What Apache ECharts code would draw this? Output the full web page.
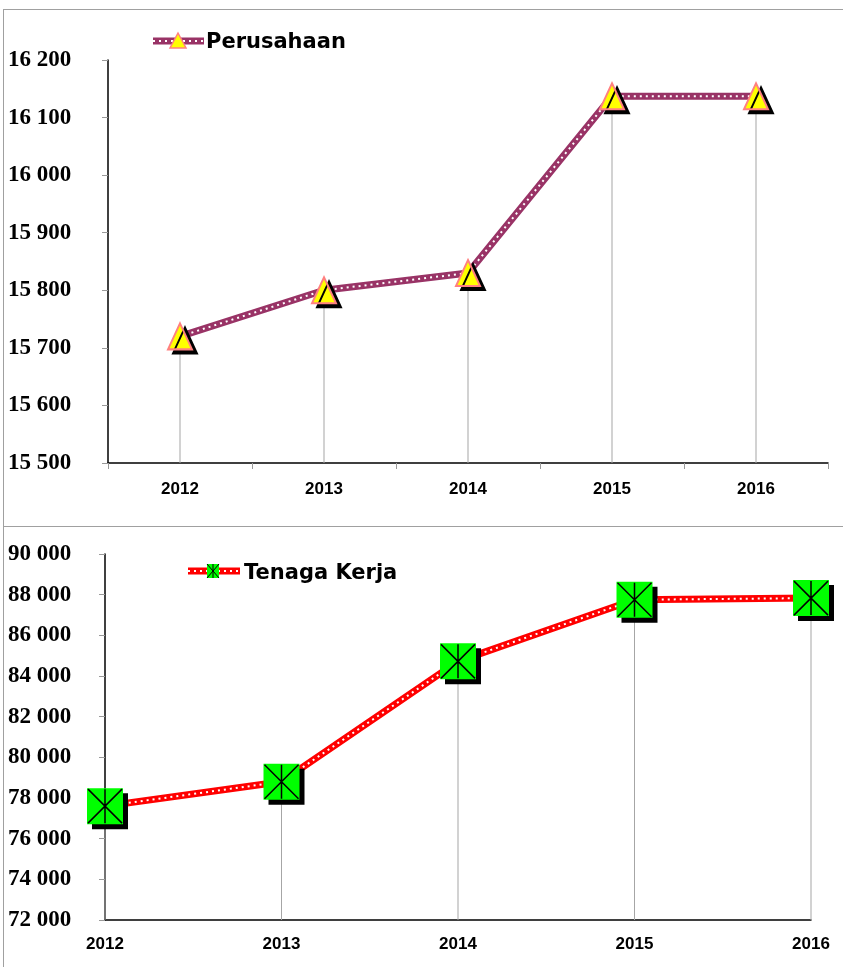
<!DOCTYPE html>
<html>
<head>
<meta charset="utf-8">
<script src="https://cdn.jsdelivr.net/npm/echarts@6/dist/echarts.min.js"></script>
<style>
html,body{margin:0;padding:0;background:#fff;}
#c{width:843px;height:967px;}
</style>
</head>
<body>
<div id="c"></div>
<script>
// ---- data ----
const years = ['2012', '2013', '2014', '2015', '2016'];
const perusahaan = [15720, 15800, 15830, 16137, 16137];
const tenagaKerja = [77600, 78800, 84720, 87750, 87830];
const topAxis = { min: 15500, max: 16200, interval: 100 };
const bottomAxis = { min: 72000, max: 90000, interval: 2000 };
const seriesNames = ['Perusahaan', 'Tenaga Kerja'];

const fmt = v => String(v).replace(/\B(?=(\d{3})+(?!\d))/g, ' ');
const serif = '"Liberation Serif", "Times New Roman", serif';
const sans = '"Liberation Sans", Arial, sans-serif';
const legendFont = '"DejaVu Sans", Verdana, sans-serif';

const chart = echarts.init(document.getElementById('c'), null, { renderer: 'canvas' });

const yLabel = (margin) => ({
  show: true, margin: margin, align: 'left', color: '#000',
  fontFamily: serif, fontWeight: 'bold', fontSize: 23, formatter: fmt
});
const xLabel = (margin) => ({
  show: true, margin: margin, color: '#000',
  fontFamily: sans, fontWeight: 'bold', fontSize: 17
});

const option = {
  animation: false,
  backgroundColor: '#fff',
  grid: [
    { left: 108, right: 15, top: 60, height: 403, containLabel: false },
    { left: 105, right: 32, top: 554, height: 366, containLabel: false }
  ],
  xAxis: [
    {
      gridIndex: 0, type: 'category', data: years, boundaryGap: true,
      axisLine: { lineStyle: { color: '#000', width: 1.5 } },
      axisTick: { show: true, length: 6, lineStyle: { color: '#999' }, alignWithLabel: false },
      axisLabel: xLabel(18),
      splitLine: { show: false }
    },
    {
      gridIndex: 1, type: 'category', data: years, boundaryGap: false,
      axisLine: { lineStyle: { color: '#000', width: 1.5 } },
      axisTick: { show: false },
      axisLabel: xLabel(16),
      splitLine: { show: false }
    }
  ],
  yAxis: [
    {
      gridIndex: 0, type: 'value', min: topAxis.min, max: topAxis.max, interval: topAxis.interval,
      axisLine: { show: true, lineStyle: { color: '#000', width: 1.5 } },
      axisTick: { show: true, length: 6, lineStyle: { color: '#999' } },
      axisLabel: yLabel(100),
      splitLine: { show: false }
    },
    {
      gridIndex: 1, type: 'value', min: bottomAxis.min, max: bottomAxis.max, interval: bottomAxis.interval,
      axisLine: { show: true, lineStyle: { color: '#000', width: 1.5 } },
      axisTick: { show: true, length: 6, lineStyle: { color: '#999' } },
      axisLabel: yLabel(97),
      splitLine: { show: false }
    }
  ],
  series: [
    // ---- top chart ----
    { type: 'bar', xAxisIndex: 0, yAxisIndex: 0, data: perusahaan, barWidth: 1,
      itemStyle: { color: '#a6a6a6' }, z: 1, silent: true },
    { name: seriesNames[0], type: 'line', xAxisIndex: 0, yAxisIndex: 0, data: perusahaan,
      showSymbol: false, lineStyle: { color: '#993366', width: 7 }, z: 2, silent: true },
    { type: 'line', xAxisIndex: 0, yAxisIndex: 0, data: perusahaan, showSymbol: false,
      lineStyle: { color: '#fff', width: 2, type: [2, 4] }, z: 3, silent: true },
    { type: 'scatter', xAxisIndex: 0, yAxisIndex: 0, data: perusahaan, symbol: 'triangle',
      symbolSize: [24, 26],
      itemStyle: { color: '#FFFF00', borderColor: '#FF8080', borderWidth: 2,
        shadowColor: '#000', shadowBlur: 0, shadowOffsetX: 5, shadowOffsetY: 4, opacity: 1 },
      z: 4, silent: true },
    // ---- bottom chart ----
    { type: 'bar', xAxisIndex: 1, yAxisIndex: 1, data: tenagaKerja, barWidth: 1,
      itemStyle: { color: '#a6a6a6' }, z: 1, silent: true },
    { name: seriesNames[1], type: 'line', xAxisIndex: 1, yAxisIndex: 1, data: tenagaKerja,
      showSymbol: false, lineStyle: { color: '#FF0000', width: 7 }, z: 2, silent: true },
    { type: 'line', xAxisIndex: 1, yAxisIndex: 1, data: tenagaKerja, showSymbol: false,
      lineStyle: { color: '#fff', width: 2, type: [2, 4] }, z: 3, silent: true },
    { type: 'scatter', xAxisIndex: 1, yAxisIndex: 1, data: tenagaKerja, symbol: 'rect',
      symbolSize: 36,
      itemStyle: { color: '#00FF00', borderWidth: 0,
        shadowColor: '#000', shadowBlur: 0, shadowOffsetX: 5, shadowOffsetY: 5, opacity: 1 },
      z: 4, silent: true },
    { type: 'scatter', xAxisIndex: 1, yAxisIndex: 1, data: tenagaKerja,
      symbol: 'path://M0,0L10,10M10,0L0,10M5,0L5,10', symbolSize: 34,
      itemStyle: { color: 'transparent', borderColor: '#000', borderWidth: 1.5, opacity: 1 },
      z: 5, silent: true }
  ],
  graphic: [
    // frame lines
    { type: 'line', shape: { x1: 3, y1: 9.5, x2: 843, y2: 9.5 }, style: { stroke: '#a0a0a0', lineWidth: 1 }, silent: true },
    { type: 'line', shape: { x1: 3.5, y1: 9, x2: 3.5, y2: 967 }, style: { stroke: '#a0a0a0', lineWidth: 1 }, silent: true },
    { type: 'line', shape: { x1: 3, y1: 526.5, x2: 843, y2: 526.5 }, style: { stroke: '#a0a0a0', lineWidth: 1 }, silent: true },
    // top legend
    { type: 'line', shape: { x1: 153, y1: 41, x2: 204, y2: 41 }, style: { stroke: '#993366', lineWidth: 7 }, silent: true },
    { type: 'line', shape: { x1: 153, y1: 41, x2: 204, y2: 41 }, style: { stroke: '#fff', lineWidth: 2, lineDash: [2, 4] }, silent: true },
    { type: 'polygon', shape: { points: [[178, 33], [186, 48], [170, 48]] },
      style: { fill: '#FFFF00', stroke: '#FF8080', lineWidth: 1.5 }, silent: true },
    { type: 'text', left: 206, top: 32, style: { text: seriesNames[0], fill: '#000',
      font: 'bold 21px ' + legendFont }, silent: true },
    // bottom legend
    { type: 'line', shape: { x1: 188, y1: 571, x2: 240, y2: 571 }, style: { stroke: '#FF0000', lineWidth: 7 }, silent: true },
    { type: 'line', shape: { x1: 188, y1: 571, x2: 240, y2: 571 }, style: { stroke: '#fff', lineWidth: 2, lineDash: [2, 4] }, silent: true },
    { type: 'rect', shape: { x: 207, y: 564, width: 12, height: 14 }, style: { fill: '#00FF00' }, silent: true },
    { type: 'polyline', shape: { points: [[207, 564], [219, 578]] }, style: { stroke: '#000', lineWidth: 1, fill: null }, silent: true },
    { type: 'polyline', shape: { points: [[219, 564], [207, 578]] }, style: { stroke: '#000', lineWidth: 1, fill: null }, silent: true },
    { type: 'polyline', shape: { points: [[213, 564], [213, 578]] }, style: { stroke: '#000', lineWidth: 1, fill: null }, silent: true },
    { type: 'text', left: 244, top: 563, style: { text: seriesNames[1], fill: '#000',
      font: 'bold 21px ' + legendFont }, silent: true }
  ]
};
chart.setOption(option);
</script>
</body>
</html>
